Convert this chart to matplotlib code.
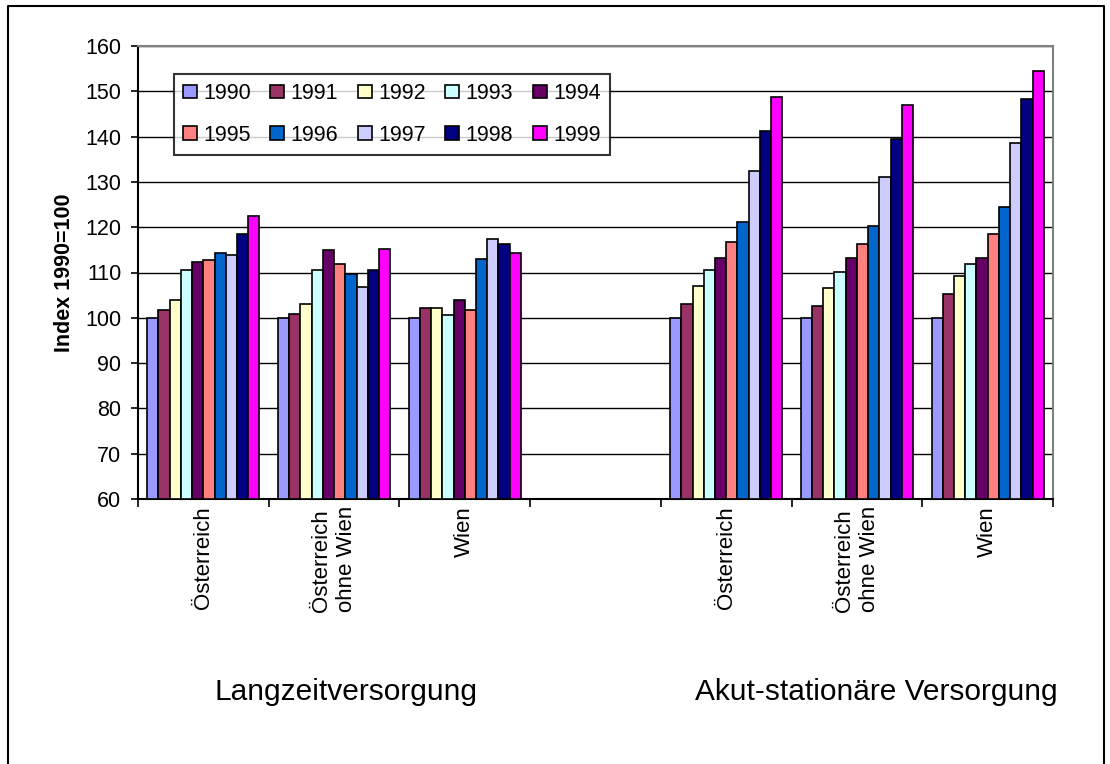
import numpy as np
import matplotlib
matplotlib.use("Agg")
import matplotlib.pyplot as plt
from matplotlib.lines import Line2D

plt.rcParams['font.family'] = ['Liberation Sans', 'DejaVu Sans']

# Jahre (Legende)
years = ['1990', '1991', '1992', '1993', '1994', '1995', '1996', '1997', '1998', '1999']
colors = ['#9999FF', '#993366', '#FFFFCC', '#CCFFFF', '#660066',
          '#FF8080', '#0066CC', '#CCCCFF', '#000080', '#FF00FF']

# Kategorien (leerer Platz zwischen den beiden Bereichen)
categories = ['Österreich', 'Österreich\nohne Wien', 'Wien', '',
              'Österreich', 'Österreich\nohne Wien', 'Wien']

# Index 1990=100, je Region 1990..1999
lang_oesterreich = [100, 101.7, 103.9, 110.5, 112.3, 112.7, 114.4, 113.9, 118.4, 122.4]
lang_ohne_wien = [100, 100.8, 103.0, 110.5, 114.9, 111.8, 109.6, 106.8, 110.5, 115.2]
lang_wien = [100, 102.2, 102.2, 100.7, 104.0, 101.7, 113.0, 117.4, 116.2, 114.4]
akut_oesterreich = [100, 103.0, 107.0, 110.5, 113.2, 116.8, 121.2, 132.3, 141.3, 148.7]
akut_ohne_wien = [100, 102.6, 106.6, 110.1, 113.2, 116.4, 120.3, 131.1, 139.4, 147.0]
akut_wien = [100, 105.3, 109.2, 111.9, 113.2, 118.6, 124.4, 138.5, 148.4, 154.5]

groups = {0: lang_oesterreich, 1: lang_ohne_wien, 2: lang_wien,
          4: akut_oesterreich, 5: akut_ohne_wien, 6: akut_wien}

fig = plt.figure(figsize=(11.1, 7.64), dpi=100)
W, H = 1110, 764
ax = fig.add_axes([138 / W, 1 - 499 / H, (1053 - 138) / W, (499 - 46) / H])

bar_w = 0.0858
ymin = 60
for gi, vals in groups.items():
    x0 = gi - 5 * bar_w
    for k, v in enumerate(vals):
        ax.bar(x0 + (k + 0.5) * bar_w, v - ymin, bottom=ymin, width=bar_w,
               color=colors[k], edgecolor='black', linewidth=1.2, zorder=3)

ax.set_xlim(-0.5, 6.5)
ax.set_ylim(60, 160)
ax.set_yticks(np.arange(60, 161, 10))
ax.yaxis.grid(True, color='black', linewidth=1.0, zorder=0)
ax.set_axisbelow(True)

ax.set_xticks(range(len(categories)))
ax.set_xticklabels(categories, rotation=90, va='top', ha='center', multialignment='left')
ax.set_xticks(np.arange(-0.5, 7, 1), minor=True)
ax.tick_params(axis='x', which='major', length=0, pad=5, labelsize=16)
ax.tick_params(axis='x', which='minor', length=6, width=1.2, direction='out')
ax.tick_params(axis='y', length=5, width=1.2, direction='out', pad=7, labelsize=15.5)

for s in ['left', 'bottom']:
    ax.spines[s].set_color('black')
    ax.spines[s].set_linewidth(1.5)
for s in ['top', 'right']:
    ax.spines[s].set_color('#808080')
    ax.spines[s].set_linewidth(1.5)

ax.set_ylabel('Index 1990=100', fontsize=15.5, fontweight='bold', labelpad=7)

# Legende zeilenweise: 1990-1994 oben, 1995-1999 unten
order = [0, 5, 1, 6, 2, 7, 3, 8, 4, 9]
handles = [plt.Rectangle((0, 0), 1, 1, facecolor=colors[i], edgecolor='black', linewidth=1.2)
           for i in order]
leg = ax.legend(handles, [years[i] for i in order], ncol=5, loc='upper left',
                bbox_to_anchor=(0.039, 0.938),
                borderaxespad=0, fontsize=15.5, frameon=True, fancybox=False,
                handlelength=0.65, handleheight=0.6, handletextpad=0.3,
                columnspacing=0.9, labelspacing=0.95, borderpad=0.42)
leg.get_frame().set_edgecolor('black')
leg.get_frame().set_linewidth(1.5)
leg.set_zorder(5)

fig.text(346 / W, 1 - 692 / H, 'Langzeitversorgung', fontsize=21.5, ha='center', va='center')
fig.text(876 / W, 1 - 692 / H, 'Akut-stationäre Versorgung', fontsize=21.5, ha='center', va='center')

# Rahmen um das Diagramm
xs = np.array([8, 8, 1104, 1104]) / W
ys = 1 - np.array([770, 6, 6, 770]) / H
fig.add_artist(Line2D(xs, ys, color='black', linewidth=1.5, transform=fig.transFigure))

fig.savefig('out.png', dpi=100)
